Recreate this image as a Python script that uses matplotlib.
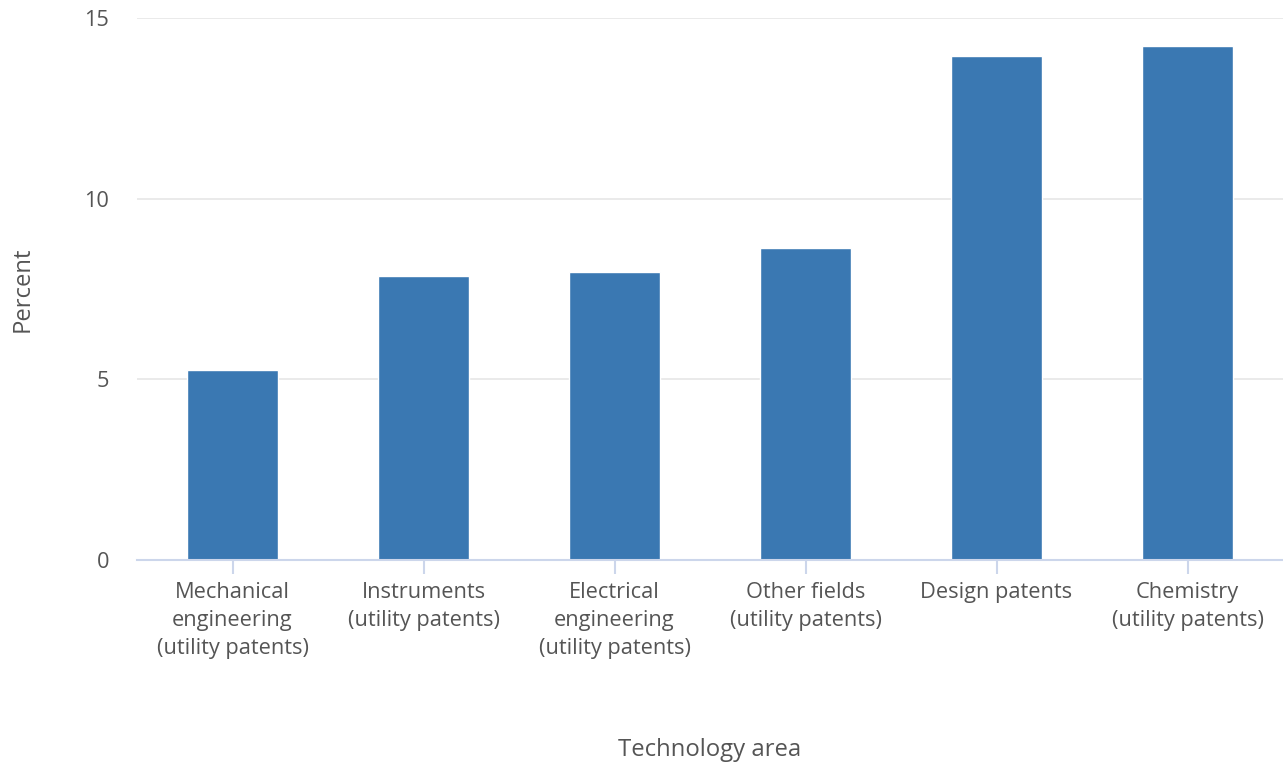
import numpy as np
import matplotlib.pyplot as plt

# ------------------------------------------
# Daten
# ------------------------------------------
areas = [
    "Mechanical\nengineering\n(utility patents)",
    "Instruments\n(utility patents)",
    "Electrical\nengineering\n(utility patents)",
    "Other fields\n(utility patents)",
    "Design patents",
    "Chemistry\n(utility patents)",
]
percent = [5.26, 7.86, 7.97, 8.64, 13.95, 14.23]
yticks = [0, 5, 10, 15]

plt.rcParams["font.family"] = ["Open Sans", "DejaVu Sans"]

fig = plt.figure(figsize=(12.83, 7.65), dpi=100)
ax = fig.add_axes([0.1068, 0.268, 0.8932, 0.7085])

x = np.arange(len(areas))
ax.bar(x, percent, width=0.48, color="#3a78b2", edgecolor="white", linewidth=1, zorder=3)

ax.set_xlim(-0.5, len(areas) - 0.5)
ax.set_ylim(0, 15)
ax.set_yticks(yticks)
ax.set_yticklabels([str(v) for v in yticks])
ax.set_xticks(x)
ax.set_xticklabels(areas, linespacing=1.42)

ax.grid(axis="y", color="#e6e6e6", linewidth=1.2, zorder=0)
for side in ["top", "right", "left"]:
    ax.spines[side].set_visible(False)
ax.spines["bottom"].set_color("#ccd6eb")
ax.spines["bottom"].set_linewidth(1.5)
ax.spines["bottom"].set_zorder(4)

ax.tick_params(axis="x", length=10, width=1.5, color="#ccd6eb", pad=6,
               labelsize=15.7, labelcolor="#555555")
ax.tick_params(axis="y", length=0, pad=20, labelsize=15.7, labelcolor="#555555")

ax.set_xlabel("Technology area", fontsize=17.2, color="#555555", va="center")
ax.xaxis.set_label_coords(0.5, -0.35)
ax.set_ylabel("Percent", fontsize=17.2, color="#555555", va="center")
ax.yaxis.set_label_coords(-0.1, 0.5)

fig.savefig("out.png", dpi=100)
